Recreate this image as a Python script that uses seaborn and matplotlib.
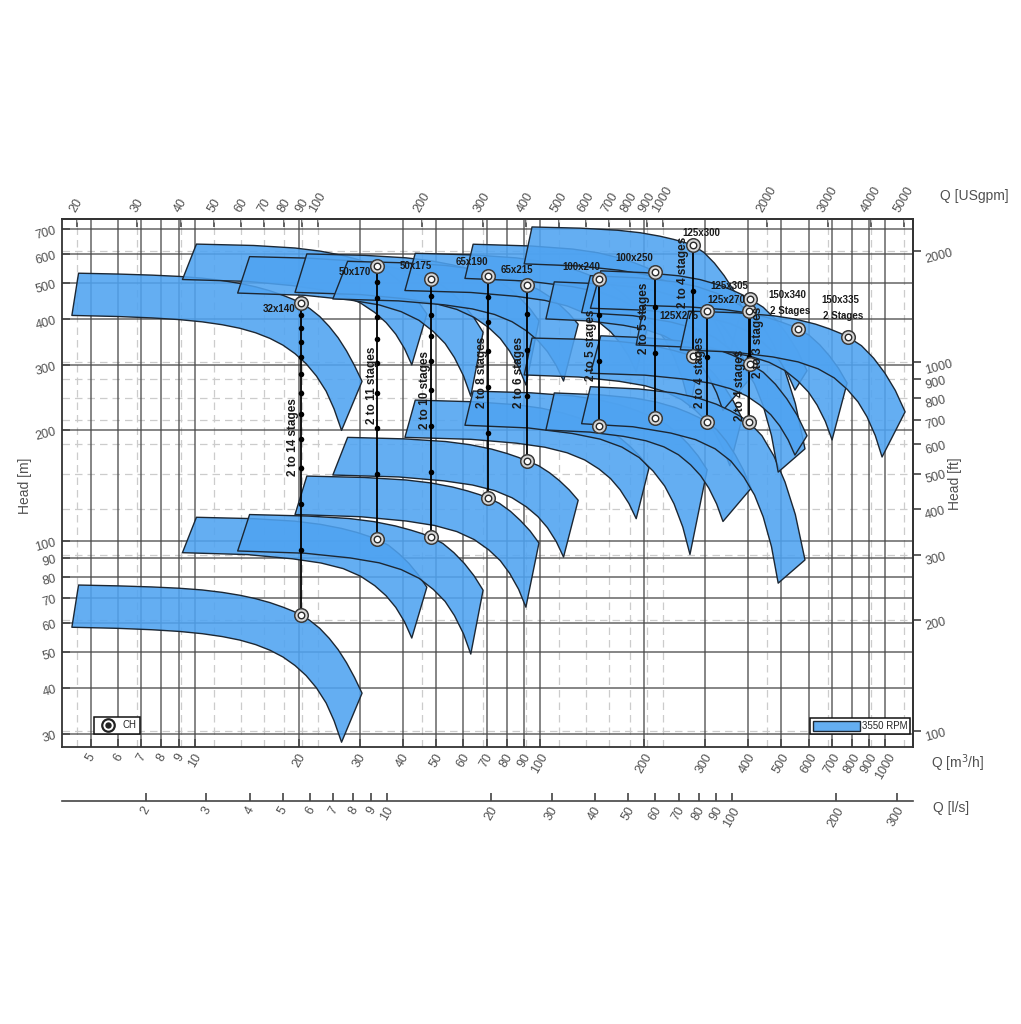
import matplotlib

matplotlib.use("Agg")
import matplotlib.pyplot as plt
import pandas as pd
import seaborn as sns
from matplotlib.lines import Line2D
from matplotlib.patches import Patch
from matplotlib.ticker import NullLocator

sns.set_theme(style="white")
plt.rcParams["font.family"] = ["Liberation Sans", "DejaVu Sans"]

# ---- data (Q in m3/h, head in m for the minimum stage count) ----
MODELS = ["32x140", "50x170", "50x175", "65x190", "65x215", "100x240", "100x250",
          "125x300", "125X275", "125x270", "125x305", "150x340", "150x335"]
BEP_Q = [20.3, 33.7, 48.3, 70.6, 91.6, 148, 215, 277, 305, 403, 406, 560, 782]
BEP_H = [63, 101, 102.5, 131, 165, 205, 215, 317, 210, 210, 302, 376, 357]
STAGE_MIN = [2, 2, 2, 2, 2, 2, 2, 2, 2, 2, 2, 2, 2]
STAGE_MAX = [14, 11, 10, 8, 6, 5, 5, 4, 4, 4, 3, 2, 2]

# upper (max impeller) and lower (min impeller) curves of the 2-stage band
up_q_32x140 = [4.6, 6, 7.5, 9, 10.5, 12, 13.5, 15, 16.5, 18, 19.3, 20.3, 21.5, 23, 24.5, 26, 27.5, 29, 30.5]
up_h_32x140 = [76, 75.6, 75.1, 74.5, 73.7, 72.6, 71.3, 69.8, 68.1, 66.2, 64.5, 63, 61, 58, 54.5, 50.8, 46.8, 42.7, 38.7]
lo_q_32x140 = [4.4, 6, 7.5, 9, 10.5, 12, 13.5, 15, 16.5, 18, 19.5, 21, 22.5, 24, 25.3, 26.6]
lo_h_32x140 = [58.4, 58, 57.5, 56.9, 56.1, 55.1, 53.9, 52.4, 50.6, 48.5, 46, 43.2, 40, 36.4, 32.6, 28.5]

up_q_50x170 = [10.1, 14.8, 19.5, 23.1, 26.6, 29.5, 31.8, 33.7, 36.4, 39, 41.7, 44.3, 47]
up_h_50x170 = [116, 115, 113.2, 111, 108.2, 105.5, 103.1, 101, 97.4, 92.4, 87, 81.2, 75]
lo_q_50x170 = [9.2, 14.2, 19.2, 23.2, 26.9, 30.2, 33.2, 35.8, 38.2, 40.5, 42.5]
lo_h_50x170 = [93, 91.9, 89.5, 87.2, 84.2, 80.3, 75.7, 71.1, 66.1, 60.4, 54.6]

up_q_50x175 = [14.4, 21.2, 28, 33, 38.1, 42.2, 45.6, 48.3, 52.3, 56.3, 60.4, 64.4, 68.4]
up_h_50x175 = [118, 116.9, 115.1, 112.9, 109.9, 107.1, 104.7, 102.5, 98.5, 93, 86.9, 80.5, 73.6]
lo_q_50x175 = [13.3, 20.8, 28.2, 34.2, 39.6, 44.6, 49.1, 53.1, 56.5, 60, 63]
lo_h_50x175 = [94, 92.7, 90, 87.3, 83.7, 79.3, 73.9, 68.6, 62.8, 56.1, 49.4]

up_q_65x190 = [21.1, 31, 40.9, 48.3, 55.8, 61.7, 66.6, 70.6, 76.3, 82.1, 87.8, 93.6, 99.3]
up_h_65x190 = [150, 148.7, 146.4, 143.7, 140.1, 136.7, 133.7, 131, 126.5, 120.4, 113.6, 106.5, 98.8]
lo_q_65x190 = [19.5, 30.2, 41, 49.5, 57.4, 64.5, 71, 76.7, 81.7, 86.7, 91]
lo_h_65x190 = [118, 116.4, 113.3, 110.2, 106.1, 100.9, 94.7, 88.5, 81.7, 74, 66.2]

up_q_65x215 = [27.7, 40.5, 53.3, 62.8, 72.4, 80.1, 86.5, 91.6, 99.1, 106.6, 114, 121.5, 129]
up_h_65x215 = [191, 189.2, 186.1, 182.4, 177.5, 172.8, 168.6, 165, 160, 153.1, 145.6, 137.6, 129]
lo_q_65x215 = [25.1, 38.9, 52.7, 63.7, 73.8, 83, 91.3, 98.6, 105.1, 111.5, 117]
lo_h_65x215 = [151, 149.2, 145.6, 141.9, 137.1, 131, 123.8, 116.5, 108.7, 99.6, 90.5]

up_q_100x240 = [43.5, 64.4, 85.3, 101, 116.7, 129.2, 139.6, 148, 159.8, 171.6, 183.4, 195.2, 207]
up_h_100x240 = [241, 238.5, 234.2, 229.1, 222.3, 215.8, 210, 205, 198.4, 189.5, 179.6, 169.3, 158]
lo_q_100x240 = [40.6, 63, 85.4, 103.3, 119.8, 134.7, 148.2, 160.1, 170.6, 181, 190]
lo_h_100x240 = [191, 188.7, 184.2, 179.6, 173.5, 165.9, 156.8, 147.7, 137.8, 126.4, 115]

up_q_100x250 = [64, 94.2, 124.4, 147.1, 169.7, 187.8, 202.9, 215, 233, 251, 269, 287, 305]
up_h_100x250 = [255, 252.2, 247.4, 241.8, 234.2, 227, 220.6, 215, 206.7, 195.5, 183.1, 170.2, 156]
lo_q_100x250 = [60.6, 92.3, 124, 149.4, 172.6, 193.8, 212.8, 229.7, 244.5, 259.3, 272]
lo_h_100x250 = [206, 202.6, 195.7, 188.9, 179.8, 168.4, 154.7, 141, 126.2, 109.1, 92]

up_q_125x300 = [94.8, 131.2, 167.7, 195, 222.3, 244.2, 262.4, 277, 298.6, 320.2, 341.8, 363.4, 385]
up_h_125x300 = [355, 352.3, 347.8, 342.5, 335.2, 328.4, 322.3, 317, 302.7, 283.3, 261.9, 239.5, 215]
lo_q_125x300 = [90, 129.8, 169.5, 201.3, 230.5, 257, 280.8, 302, 320.6, 339.1, 355]
lo_h_125x300 = [282, 278.3, 271, 263.7, 253.9, 241.7, 227.1, 212.5, 196.6, 178.3, 160]

up_q_125x275 = [110, 149, 188, 217.3, 246.5, 269.9, 289.4, 305, 325.8, 346.6, 367.4, 388.2, 409]
up_h_125x275 = [252, 249.1, 244, 238.1, 230.2, 222.6, 215.9, 210, 200.1, 186.6, 171.7, 156, 139]
lo_q_125x275 = [104, 139.3, 174.5, 202.7, 228.6, 252, 273.2, 292, 308.5, 324.9, 339]
lo_h_125x275 = [200, 197.4, 192.2, 187, 180, 171.3, 160.9, 150.4, 139.1, 126.1, 113]

up_q_125x270 = [140, 192.6, 245.2, 284.7, 324.1, 355.7, 382, 403, 439.6, 476.2, 512.8, 549.4, 586]
up_h_125x270 = [262, 258.4, 252.1, 244.8, 235, 225.6, 217.3, 210, 193, 170, 144.6, 118, 88.9]
lo_q_125x270 = [132, 185.7, 239.4, 282.4, 321.7, 357.5, 389.8, 418.4, 443.5, 468.5, 490]
lo_h_125x270 = [208, 204.1, 196.2, 188.3, 177.8, 164.7, 149, 133.3, 116.2, 96.6, 76.9]

up_q_125x305 = [150, 201.2, 252.4, 290.8, 329.2, 359.9, 385.5, 406, 443.6, 481.2, 518.8, 556.4, 594]
up_h_125x305 = [360, 355.9, 349, 340.9, 329.8, 319.4, 310.1, 302, 286.7, 266, 243.1, 219.2, 193]
lo_q_125x305 = [140, 201.2, 262.4, 311.4, 356.2, 397, 433.8, 466.4, 495, 523.5, 548]
lo_h_125x305 = [285, 281.6, 274.7, 267.9, 258.8, 247.4, 233.7, 220, 205.2, 188.1, 171]

up_q_150x340 = [200, 272, 344, 398, 452, 495.2, 531.2, 560, 603.2, 646.4, 689.6, 732.8, 776]
up_h_150x340 = [435, 430.9, 423.8, 415.5, 404.3, 393.7, 384.3, 376, 360.9, 340.4, 317.7, 293.9, 268]
lo_q_150x340 = [190, 266.8, 343.6, 405, 461.4, 512.6, 558.6, 599.6, 635.4, 671.3, 702]
lo_h_150x340 = [340, 335.4, 326.3, 317.2, 305, 289.8, 271.6, 253.4, 233.6, 210.8, 188]

up_q_150x335 = [270, 372.4, 474.8, 551.6, 628.4, 689.8, 741, 782, 854.2, 926.4, 998.6, 1070.8, 1143]
up_h_150x335 = [420, 415.6, 408, 399.2, 387.2, 375.9, 365.8, 357, 338.4, 313.1, 285.2, 255.9, 224]
lo_q_150x335 = [255, 363.8, 472.5, 559.5, 639.3, 711.8, 777, 835, 885.8, 936.5, 980]
lo_h_150x335 = [330, 325.2, 315.5, 305.9, 293, 276.9, 257.6, 238.2, 217.3, 193.2, 169]

CURVES = {
    "32x140": (up_q_32x140, up_h_32x140, lo_q_32x140, lo_h_32x140),
    "50x170": (up_q_50x170, up_h_50x170, lo_q_50x170, lo_h_50x170),
    "50x175": (up_q_50x175, up_h_50x175, lo_q_50x175, lo_h_50x175),
    "65x190": (up_q_65x190, up_h_65x190, lo_q_65x190, lo_h_65x190),
    "65x215": (up_q_65x215, up_h_65x215, lo_q_65x215, lo_h_65x215),
    "100x240": (up_q_100x240, up_h_100x240, lo_q_100x240, lo_h_100x240),
    "100x250": (up_q_100x250, up_h_100x250, lo_q_100x250, lo_h_100x250),
    "125x300": (up_q_125x300, up_h_125x300, lo_q_125x300, lo_h_125x300),
    "125X275": (up_q_125x275, up_h_125x275, lo_q_125x275, lo_h_125x275),
    "125x270": (up_q_125x270, up_h_125x270, lo_q_125x270, lo_h_125x270),
    "125x305": (up_q_125x305, up_h_125x305, lo_q_125x305, lo_h_125x305),
    "150x340": (up_q_150x340, up_h_150x340, lo_q_150x340, lo_h_150x340),
    "150x335": (up_q_150x335, up_h_150x335, lo_q_150x335, lo_h_150x335),
}

# axis tick values
Q_M3H_TICKS = [5, 6, 7, 8, 9, 10, 20, 30, 40, 50, 60, 70, 80, 90, 100,
               200, 300, 400, 500, 600, 700, 800, 900, 1000]
H_M_TICKS = [30, 40, 50, 60, 70, 80, 90, 100, 200, 300, 400, 500, 600, 700]
Q_GPM_TICKS = [20, 30, 40, 50, 60, 70, 80, 90, 100, 200, 300, 400, 500, 600,
               700, 800, 900, 1000, 2000, 3000, 4000, 5000]
H_FT_TICKS = [90, 100, 200, 300, 400, 500, 600, 700, 800, 900, 1000, 2000]
Q_LS_TICKS = [2, 3, 4, 5, 6, 7, 8, 9, 10, 20, 30, 40, 50, 60, 70, 80, 90,
              100, 200, 300]

GPM_PER_M3H = 4.402868
FT_PER_M = 3.28084

# ---- layout (label placement, pixel offsets from the top BEP circle) ----
NAME_OFFSET = {
    "32x140": (-6, -6, "right"), "50x170": (-6, -6, "right"),
    "50x175": (-15, 13, "center"), "65x190": (0, 14, "right"),
    "65x215": (-10, 15, "center"), "100x240": (-17, 12, "center"),
    "100x250": (-20, 14, "center"), "125x300": (-10, 12, "left"),
    "125X275": (-9, -5, "right"), "125x270": (-4, 11, "right"),
    "125x305": (-2, 13, "right"), "150x340": (-11, 34, "center"),
    "150x335": (-8, 37, "center"),
}
STAGE_TEXT = {  # x offset in px, vertical centre as head (m)
    "32x140": (-8, 191), "50x170": (-5, 265), "50x175": (-6, 257),
    "65x190": (-6, 287), "65x215": (-8, 287), "100x240": (-8, 340),
    "100x250": (-11, 402), "125x300": (-10, 536), "125X275": (-7, 287),
    "125x270": (-9, 265), "125x305": (8, 346),
}

FILL = (0.31, 0.64, 0.945, 0.88)
EDGE = "#1c2733"
GRID_DARK = "#4a4a4a"
GRID_LIGHT = "#cccccc"
TXT = "#505050"

fig = plt.figure(figsize=(10.21, 10.24), dpi=100)
ax = fig.add_axes([0.0604, 0.2705, 0.8335, 0.5156])
ax.set_xscale("log")
ax.set_yscale("log")
ax.set_xlim(4.11, 1202)
ax.set_ylim(27.66, 746)

# grid: solid at metric ticks, dashed at imperial ticks
for q in Q_M3H_TICKS:
    ax.axvline(q, color=GRID_DARK, lw=1.1, alpha=0.85, zorder=0.6)
for h in H_M_TICKS:
    ax.axhline(h, color=GRID_DARK, lw=1.1, alpha=0.85, zorder=0.6)
for g in Q_GPM_TICKS:
    ax.axvline(g / GPM_PER_M3H, color=GRID_LIGHT, lw=0.9, ls=(0, (6, 4)), zorder=0.5)
for f in H_FT_TICKS:
    ax.axhline(f / FT_PER_M, color=GRID_LIGHT, lw=0.9, ls=(0, (6, 4)), zorder=0.5)

# operating bands for min and max stage count
for i, m in enumerate(MODELS):
    uq, uh, lq, lh = CURVES[m]
    for n in sorted({STAGE_MIN[i], STAGE_MAX[i]}):
        k = n / STAGE_MIN[i]
        xs = list(uq) + list(lq)[::-1]
        ys = [h * k for h in uh] + [h * k for h in lh][::-1]
        ax.fill(xs, ys, facecolor=FILL, edgecolor=EDGE, lw=1.0, zorder=2,
                joinstyle="round")

# stage lines, intermediate stage dots and BEP circles
line_rows, dot_rows, bep_rows = [], [], []
for i, m in enumerate(MODELS):
    n0, n1 = STAGE_MIN[i], STAGE_MAX[i]
    h_stage = BEP_H[i] / n0
    bep_rows.append((m, BEP_Q[i], BEP_H[i]))
    if n1 > n0:
        line_rows += [(m, BEP_Q[i], h_stage * n0), (m, BEP_Q[i], h_stage * n1)]
        bep_rows.append((m, BEP_Q[i], h_stage * n1))
        for n in range(n0 + 1, n1):
            dot_rows.append((m, BEP_Q[i], h_stage * n))
lines_df = pd.DataFrame(line_rows, columns=["model", "q", "h"])
dots_df = pd.DataFrame(dot_rows, columns=["model", "q", "h"])
bep_df = pd.DataFrame(bep_rows, columns=["model", "q", "h"])

sns.lineplot(data=lines_df, x="q", y="h", units="model", estimator=None, sort=False,
             color="black", lw=1.3, ax=ax, zorder=3, legend=False)
sns.scatterplot(data=dots_df, x="q", y="h", color="black", s=16, linewidth=0,
                ax=ax, zorder=4, legend=False)
sns.scatterplot(data=bep_df, x="q", y="h", color="#d6d6d6", edgecolor="#3a3a3a",
                s=95, linewidth=1.1, ax=ax, zorder=5, legend=False)
sns.scatterplot(data=bep_df, x="q", y="h", color="white", edgecolor="#2a2a2a",
                s=22, linewidth=1.0, ax=ax, zorder=6, legend=False)

# labels
for i, m in enumerate(MODELS):
    n0, n1 = STAGE_MIN[i], STAGE_MAX[i]
    top_h = BEP_H[i] / n0 * n1
    dx, dy, ha = NAME_OFFSET[m]
    ax.annotate(m, (BEP_Q[i], top_h), xytext=(dx, dy), textcoords="offset pixels",
                ha=ha, va="center", fontsize=7, fontweight="bold", color="#1a1a1a",
                zorder=8)
    if n1 == n0:
        ax.annotate(f"{n0} Stages", (BEP_Q[i], top_h), xytext=(dx + 3, dy - 16),
                    textcoords="offset pixels", ha="center", va="center", fontsize=7,
                    fontweight="bold", color="#1a1a1a", zorder=8)
    else:
        sx, sh = STAGE_TEXT[m]
        ax.annotate(f"{n0} to {n1} stages", (BEP_Q[i], sh), xytext=(sx, 0),
                    textcoords="offset pixels", ha="center", va="center",
                    rotation=90, fontsize=8.5, fontweight="bold", color="#1a1a1a",
                    zorder=8)

# primary axes ticks
ax.set_xticks(Q_M3H_TICKS)
ax.set_xticklabels([str(v) for v in Q_M3H_TICKS], rotation=60, ha="center")
ax.set_yticks(H_M_TICKS)
ax.set_yticklabels([str(v) for v in H_M_TICKS], rotation=15)
ax.xaxis.set_minor_locator(NullLocator())
ax.yaxis.set_minor_locator(NullLocator())
ax.tick_params(axis="both", which="major", direction="in", length=6, width=1.1,
               color="#333333", labelsize=9, labelcolor=TXT, pad=3,
               bottom=True, left=True, top=False, right=False)
for sp in ax.spines.values():
    sp.set_color("#333333")
    sp.set_linewidth(1.3)
ax.set_xlabel("")
ax.set_ylabel("")

top = ax.secondary_xaxis("top", functions=(lambda q: q * GPM_PER_M3H,
                                           lambda g: g / GPM_PER_M3H))
top.set_xticks(Q_GPM_TICKS)
top.set_xticklabels([str(v) for v in Q_GPM_TICKS], rotation=60, ha="center")
top.xaxis.set_minor_locator(NullLocator())
top.tick_params(direction="in", length=6, width=1.1, color="#333333",
                labelsize=9, labelcolor=TXT, pad=3)

right = ax.secondary_yaxis("right", functions=(lambda h: h * FT_PER_M,
                                               lambda f: f / FT_PER_M))
right.set_yticks(H_FT_TICKS)
right.set_yticklabels([str(v) for v in H_FT_TICKS], rotation=15)
right.yaxis.set_minor_locator(NullLocator())
right.tick_params(direction="out", length=6, width=1.1, color="#333333",
                  labelsize=9, labelcolor=TXT, pad=2)

ls_ax = ax.secondary_xaxis(-0.1017, functions=(lambda q: q / 3.6, lambda l: l * 3.6))
ls_ax.set_xticks(Q_LS_TICKS)
ls_ax.set_xticklabels([str(v) for v in Q_LS_TICKS], rotation=60, ha="center")
ls_ax.xaxis.set_minor_locator(NullLocator())
ls_ax.tick_params(direction="in", length=6, width=1.1, color="#333333",
                  labelsize=9, labelcolor=TXT, pad=3)
for sp in ls_ax.spines.values():
    sp.set_color("#444444")
    sp.set_linewidth(1.2)

# axis titles
ax.text(1.022, -0.03, "Q [m$^3$/h]", transform=ax.transAxes, fontsize=10,
        color=TXT, va="center", ha="left")
ax.text(1.024, -0.116, "Q [l/s]", transform=ax.transAxes, fontsize=10,
        color=TXT, va="center", ha="left")
ax.text(1.032, 1.044, "Q [USgpm]", transform=ax.transAxes, fontsize=10,
        color=TXT, va="center", ha="left")
fig.text(0.0245, 0.526, "Head [m]", rotation=90, fontsize=10, color=TXT,
         ha="center", va="center")
fig.text(0.935, 0.528, "Head [ft]", rotation=90, fontsize=10, color=TXT,
         ha="center", va="center")

# legends
ch_handle = (Line2D([], [], marker="o", ms=9, mfc="white", mec="#222222", mew=1.6, ls="none"),
             Line2D([], [], marker="o", ms=3.6, color="#222222", ls="none"))
leg1 = ax.legend([ch_handle], ["CH"], loc="lower left", bbox_to_anchor=(0.038, 0.024),
                 fancybox=False, framealpha=1, edgecolor="#111111", fontsize=7,
                 borderpad=0.4, handlelength=2.0, handletextpad=0.5, borderaxespad=0)
leg1.get_frame().set_linewidth(1.1)
leg1.set_zorder(10)
ax.add_artist(leg1)
rpm_handle = Patch(facecolor=FILL, edgecolor=EDGE, lw=1.0)
leg2 = ax.legend([rpm_handle], ["3550 RPM"], loc="lower right",
                 bbox_to_anchor=(0.997, 0.024), fancybox=False, framealpha=1,
                 edgecolor="#111111", fontsize=7, borderpad=0.3, handlelength=4.8,
                 handleheight=1.2, handletextpad=0.2, borderaxespad=0)
leg2.get_frame().set_linewidth(1.1)
leg2.set_zorder(10)

fig.savefig("out.png", dpi=100)
